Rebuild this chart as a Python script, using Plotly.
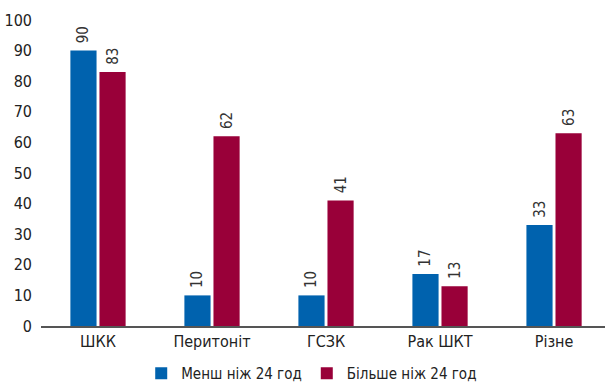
import plotly.graph_objects as go

categories = ["ШКК", "Перитоніт", "ГСЗК", "Рак ШКТ", "Різне"]
less_24 = [90, 10, 10, 17, 33]
more_24 = [83, 62, 41, 13, 63]
series_names = ["Менш ніж 24 год", "Більше ніж 24 год"]
tick_vals = list(range(0, 101, 10))

FONT = "DejaVu Sans Condensed, Liberation Sans Narrow, sans-serif"
BLUE = "#0062AE"
CRIMSON = "#990039"

fig = go.Figure()
for name, vals, col in [(series_names[0], less_24, BLUE), (series_names[1], more_24, CRIMSON)]:
    fig.add_trace(go.Bar(
        x=categories, y=vals, name=name, marker=dict(color=col, line=dict(width=0)),
        text=["\u00a0" + str(v) for v in vals], textposition="outside", textangle=-90,
        textfont=dict(family=FONT, size=15, color="#333333"), cliponaxis=False,
    ))

fig.update_layout(
    width=605, height=390,
    margin=dict(l=41, r=0, t=20, b=64),
    paper_bgcolor="white", plot_bgcolor="white",
    barmode="group", bargap=0.49, bargroupgap=0.1,
    font=dict(family=FONT, size=16, color="#222222"),
    showlegend=True,
    legend=dict(orientation="h", x=0.48, xanchor="center", yref="container", y=-0.015, yanchor="bottom",
                font=dict(family=FONT, size=15, color="#222222"),
                itemwidth=30, traceorder="normal", tracegroupgap=0),
    xaxis=dict(range=[-0.5, 4.447], showline=True, linecolor="#555555", linewidth=1.5,
               ticks="", showgrid=False, tickfont=dict(family=FONT, size=16)),
    yaxis=dict(range=[0, 100], tickvals=tick_vals, showgrid=False, zeroline=False,
               showline=False, ticks="", ticklabelstandoff=8,
               tickfont=dict(family=FONT, size=16)),
)

fig.write_html("out.html")
